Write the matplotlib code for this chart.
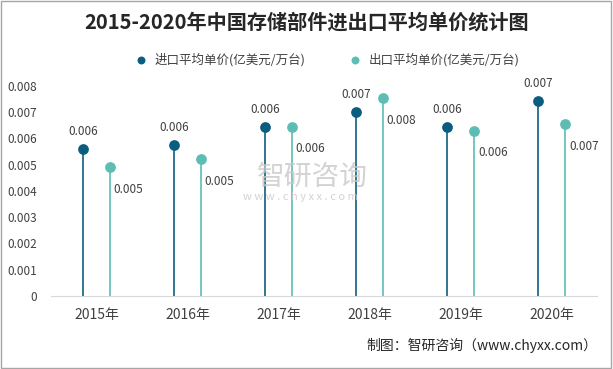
import matplotlib.pyplot as plt
import numpy as np

plt.rcParams['font.family'] = ['Noto Sans CJK SC', 'DejaVu Sans']

years = ["2015年", "2016年", "2017年", "2018年", "2019年", "2020年"]
import_price = [0.0056, 0.00574, 0.00645, 0.0070, 0.00645, 0.00744]
export_price = [0.0049, 0.0052, 0.00645, 0.00753, 0.0063, 0.00654]
import_labels = ["0.006", "0.006", "0.006", "0.007", "0.006", "0.007"]
export_labels = ["0.005", "0.005", "0.006", "0.008", "0.006", "0.007"]

IMP_COLOR = "#0b5d80"
EXP_COLOR = "#5dbdb5"
TEXT = "#404040"

fig = plt.figure(figsize=(6.13, 3.69), dpi=100)
ax = fig.add_axes([0.083, 0.198, 0.891, 0.569])

x = np.arange(len(years))
off = 0.145

ax.vlines(x - off, 0, import_price, color=IMP_COLOR, lw=1.2)
ax.vlines(x + off, 0, export_price, color=EXP_COLOR, lw=1.2)
ax.scatter(x - off, import_price, s=45, color=IMP_COLOR, zorder=3,
           label="进口平均单价(亿美元/万台)")
ax.scatter(x + off, export_price, s=45, color=EXP_COLOR, zorder=3,
           label="出口平均单价(亿美元/万台)")

for xi, v, lab in zip(x, import_price, import_labels):
    ax.annotate(lab, (xi - off, v), xytext=(0, 8), textcoords="offset points",
                ha="center", va="bottom", fontsize=8.5, color=TEXT)
for xi, v, lab in zip(x, export_price, export_labels):
    ax.annotate(lab, (xi + off, v), xytext=(3, -11), textcoords="offset points",
                ha="left", va="top", fontsize=8.5, color=TEXT)

ax.set_xlim(-0.5, len(years) - 0.5)
ax.set_ylim(0, 0.008)
ax.set_yticks(np.arange(0, 0.0081, 0.001))
ax.set_yticklabels(["0"] + [f"{v:.3f}" for v in np.arange(0.001, 0.0081, 0.001)])
ax.set_xticks(x)
ax.set_xticklabels(years, fontsize=10, color=TEXT)
ax.tick_params(axis="y", length=0, labelsize=8.5, labelcolor=TEXT, pad=10)
ax.tick_params(axis="x", length=0, pad=9)
for side in ["top", "right", "left"]:
    ax.spines[side].set_visible(False)
ax.spines["bottom"].set_color("#d9d9d9")

fig.text(0.5, 0.94, "2015-2020年中国存储部件进出口平均单价统计图",
         ha="center", va="center", fontsize=14.5, fontweight="bold", color="#262626")
ax.legend(loc="center", bbox_to_anchor=(0.5, 1.125), ncol=2, frameon=False,
          fontsize=9, handletextpad=0.1, columnspacing=3, markerscale=0.7,
          labelcolor=TEXT)

fig.text(0.975, 0.065, "制图：智研咨询（www.chyxx.com）", ha="right", va="center",
         fontsize=10, color="#262626")

# watermark
fig.text(0.51, 0.52, "智研咨询", ha="center", va="center", fontsize=20,
         color="#c8c8c8", alpha=0.8)
fig.text(0.49, 0.465, "w w w . c h y x x . c o m", ha="center", va="center",
         fontsize=8, color="#c8c8c8", alpha=0.8)

fig.patches.append(plt.Rectangle((0.002, 0.003), 0.995, 0.994, transform=fig.transFigure,
                                 fill=False, edgecolor="#a6a6a6", lw=1))

fig.savefig("out.png", dpi=100)
